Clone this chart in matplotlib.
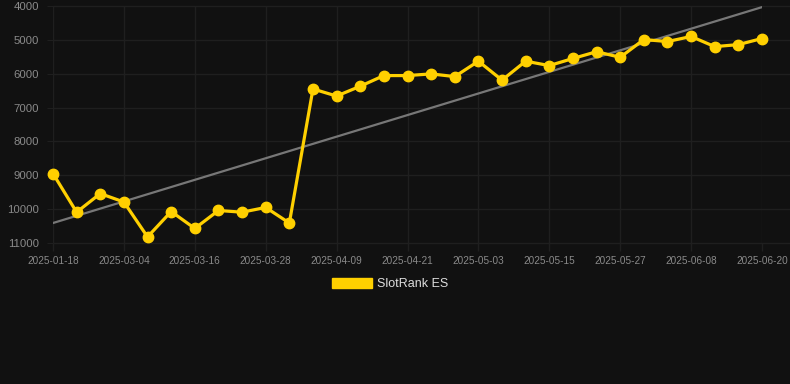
import numpy as np
import matplotlib
matplotlib.use("Agg")
import matplotlib.pyplot as plt
from matplotlib.patches import Patch


dates = ['2025-01-18', '2025-02-24', '2025-02-28', '2025-03-04', '2025-03-08',
         '2025-03-12', '2025-03-16', '2025-03-20', '2025-03-24', '2025-03-28',
         '2025-04-01', '2025-04-05', '2025-04-09', '2025-04-13', '2025-04-17',
         '2025-04-21', '2025-04-25', '2025-04-29', '2025-05-03', '2025-05-07',
         '2025-05-11', '2025-05-15', '2025-05-19', '2025-05-23', '2025-05-27',
         '2025-05-31', '2025-06-04', '2025-06-08', '2025-06-12', '2025-06-16',
         '2025-06-20']
rank = [8950, 10090, 9540, 9790, 10820, 10070, 10570, 10040, 10090, 9950,
        10410, 6450, 6660, 6370, 6055, 6055, 6005, 6085, 5630, 6190,
        5630, 5760, 5550, 5350, 5515, 4990, 5050, 4900, 5200, 5140, 4960]
y_ticks = [4000, 5000, 6000, 7000, 8000, 9000, 10000, 11000]

bg = '#111111'
gold = '#FFD000'
grid_c = '#1f1f1f'
tick_c = '#8a8a8a'

x = np.arange(len(dates))
# linear trend over the series
k, b = np.polyfit(x, rank, 1)
trend = k * x + b

fig = plt.figure(figsize=(7.9, 3.84), dpi=100, facecolor=bg)
ax = fig.add_axes([53 / 790, 1 - 243 / 384, (762 - 53) / 790, (243 - 6) / 384])
ax.set_facecolor(bg)

ax.plot(x, trend, color='#777777', lw=1.6, zorder=2)
ax.plot(x, rank, color=gold, lw=2.3, marker='o', ms=7.5, zorder=3, clip_on=False)

ax.set_xlim(0, len(dates) - 1)
ax.set_ylim(11000, 4000)
ax.set_yticks(y_ticks)
ax.set_xticks(x[::3])
ax.set_xticklabels(dates[::3])

for lbl in ax.get_yticklabels():
    lbl.set_fontfamily('Liberation Sans')
    lbl.set_fontsize(8.2)
for lbl in ax.get_xticklabels():
    lbl.set_fontfamily('Liberation Sans')
    lbl.set_fontsize(7.2)

ax.tick_params(axis='y', colors=grid_c, labelcolor=tick_c, length=4, pad=6)
ax.tick_params(axis='x', colors=grid_c, labelcolor=tick_c, length=6, width=1, pad=3)
ax.grid(True, axis='x', color=grid_c, lw=1)
# horizontal grid runs on to the right edge of the canvas
ax.hlines(y_ticks, 0, 1 + 28 / 709, transform=ax.get_yaxis_transform(),
          color=grid_c, lw=1, clip_on=False, zorder=0)
for s in ax.spines.values():
    s.set_visible(False)

handle = Patch(facecolor=gold, edgecolor=gold)
fig.legend([handle], ['SlotRank ES'], loc='center', bbox_to_anchor=(0.494, 1 - 284 / 384),
           frameon=False, handlelength=3.2, handleheight=0.9, handletextpad=0.45,
           prop={'family': 'Liberation Sans', 'size': 9}, labelcolor='#dddddd')

fig.savefig('out.png', dpi=100, facecolor=bg)
